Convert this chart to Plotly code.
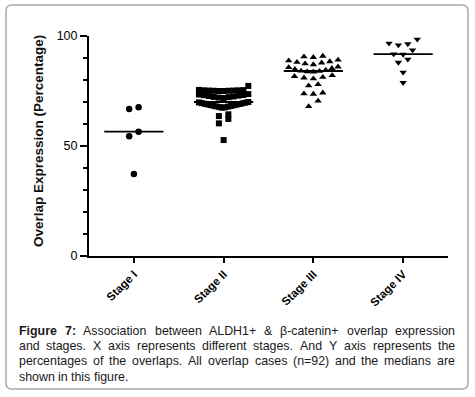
import plotly.graph_objects as go
import numpy as np

# ---------------- data ----------------
stages = ["Stage I", "Stage II", "Stage III", "Stage IV"]
stage1 = [67.6, 66.8, 56.5, 54.4, 37.3]
stage2 = [52.7, 60.3, 62.3, 63.6, 64.4,
          67.4, 67.6, 67.7, 67.9, 68.0, 68.2, 68.3, 68.5, 68.6, 68.8, 68.9,
          69.1, 69.2, 69.4, 69.5, 69.7, 69.8, 70.0,
          71.8, 72.0, 72.2, 72.3, 72.5, 72.7, 72.9, 73.1, 73.2, 73.4, 73.6,
          75.0, 75.0, 75.1, 75.1, 75.2, 75.2, 75.3, 75.3, 75.4, 75.5,
          77.3]
stage3 = [68.0, 70.5, 73.6, 73.8, 74.2, 77.4, 78.0,
          80.6, 81.0, 81.3, 81.7, 82.1,
          83.7, 83.8, 84.0, 84.1, 84.5, 84.9, 85.3, 85.7, 86.0,
          87.0, 87.4, 87.8, 88.1, 88.4, 88.8, 89.1,
          90.3, 90.6, 90.9]
stage4 = [78.8, 83.5, 88.0, 89.4, 91.6, 91.8, 93.6, 95.9, 96.4, 96.7, 98.5]
y_tick_vals = [0, 50, 100]
y_tick_text = ["0", "50", "100"]
symbols = ["circle", "square", "triangle-up", "triangle-down"]
marker_sizes = [6.5, 6, 6.5, 6.5]

caption_lines = [
    "Figure 7: Association between ALDH1+ & β-catenin+ overlap expression",
    "and stages. X axis represents different stages. And Y axis represents the",
    "percentages of the overlaps. All overlap cases (n=92) and the medians are",
    "shown in this figure.",
]
y_title = "Overlap Expression (Percentage)"

# ---------------- geometry helpers ----------------
W, H = 475, 397
L_M, R_M, T_M, B_M = 89, 27, 36, 141
PW = W - L_M - R_M
PH = H - T_M - B_M


def px(x):
    return (x - L_M) / PW


def py(y):
    return (H - B_M - y) / PH


def swarm(values, idx, row_h=3.0, step=0.105, max_w=0.55):
    vals = sorted(values)
    xs, ys = [], []
    i = 0
    while i < len(vals):
        j = i
        while j < len(vals) and vals[j] - vals[i] < row_h:
            j += 1
        row = vals[i:j]
        n = len(row)
        s = step if n < 2 else min(step, max_w / (n - 1))
        for k, v in enumerate(row):
            if n % 2:
                m = (k + 1) // 2
                slot = 0 if k == 0 else (-m if k % 2 else m)
            else:
                slot = (k // 2 + 0.5) * (-1 if k % 2 == 0 else 1)
            xs.append(idx + slot * s)
            ys.append(v)
        i = j
    return xs, ys


fig = go.Figure()
all_stages = [stage1, stage2, stage3, stage4]
for i, vals in enumerate(all_stages):
    xs, ys = swarm(vals, i)
    fig.add_trace(go.Scatter(
        x=xs, y=ys, mode="markers",
        marker=dict(symbol=symbols[i], size=marker_sizes[i], color="black",
                    line=dict(width=0)),
        hoverinfo="skip"))
    med = float(np.median(vals))
    fig.add_trace(go.Scatter(
        x=[i - 0.33, i + 0.33], y=[med, med], mode="lines",
        line=dict(color="black", width=1.8), hoverinfo="skip"))

FONT = "Liberation Sans, Arial, sans-serif"

fig.update_layout(
    width=W, height=H,
    margin=dict(l=L_M, r=R_M, t=T_M, b=B_M, pad=0),
    paper_bgcolor="white", plot_bgcolor="white",
    showlegend=False,
    font=dict(family=FONT, color="black"),
    xaxis=dict(
        range=[-0.5, 3.5], tickmode="array", tickvals=list(range(len(stages))),
        ticktext=["<b>%s</b>" % s for s in stages], tickangle=-45,
        tickfont=dict(size=11.5, family=FONT, color="black"),
        showline=True, linecolor="black", linewidth=2,
        ticks="outside", ticklen=5, tickwidth=2, tickcolor="black",
        showgrid=False, zeroline=False, automargin=False, fixedrange=True),
    yaxis=dict(
        range=[0, 100], tickmode="array", tickvals=y_tick_vals, ticktext=y_tick_text,
        tickfont=dict(size=12.5, family=FONT, color="black"),
        showline=True, linecolor="black", linewidth=2,
        ticks="outside", ticklen=7, tickwidth=2, tickcolor="black",
        minor=dict(tickmode="linear", tick0=0, dtick=10, ticks="outside",
                   ticklen=4, tickwidth=1.5, tickcolor="black"),
        showgrid=False, zeroline=False, automargin=False, fixedrange=True),
)

# y title
fig.add_annotation(
    text="<b>%s</b>" % y_title, textangle=-90, x=px(38), y=py(141),
    xref="paper", yref="paper", xanchor="center", yanchor="middle",
    showarrow=False, font=dict(size=13.5, family=FONT, color="#111"))

# rounded frame
x0, y0, x1, y1, r = 6, 5, 468, 389, 6


def P(a, b):
    return "%.5f,%.5f" % (px(a), py(b))


path = ("M" + P(x0 + r, y0) + " L" + P(x1 - r, y0) + " Q" + P(x1, y0) + " " + P(x1, y0 + r)
        + " L" + P(x1, y1 - r) + " Q" + P(x1, y1) + " " + P(x1 - r, y1)
        + " L" + P(x0 + r, y1) + " Q" + P(x0, y1) + " " + P(x0, y1 - r)
        + " L" + P(x0, y0 + r) + " Q" + P(x0, y0) + " " + P(x0 + r, y0) + " Z")
fig.add_shape(type="path", path=path, xref="paper", yref="paper",
              line=dict(color="#a9a9a9", width=1.5), fillcolor="rgba(0,0,0,0)", layer="below")

# caption (justified, word by word with Arial metrics)
REG = dict(zip("abcdefghijklmnopqrstuvwxyz",
               [556, 556, 500, 556, 556, 278, 556, 556, 222, 222, 500, 222, 833, 556, 556,
                556, 556, 333, 500, 278, 556, 500, 722, 500, 500, 500]))
REG.update(dict(zip("ABCDEFGHIJKLMNOPQRSTUVWXYZ",
                    [667, 667, 722, 722, 667, 611, 778, 722, 278, 500, 667, 556, 833, 722, 778,
                     667, 778, 722, 667, 611, 722, 667, 944, 667, 667, 611])))
REG.update({" ": 278, ".": 278, ",": 278, ":": 278, "(": 333, ")": 333, "+": 584,
            "=": 584, "&": 667, "-": 333, "β": 575})
for d in "0123456789":
    REG[d] = 556
BOLD = {"F": 611, "i": 278, "g": 611, "u": 611, "r": 389, "e": 556, "7": 556, ":": 333, " ": 278}

CFS = 12.4
CX0, CX1 = 19, 455
line_y = [331, 346, 361, 376.5]


def tw(s, bold):
    t = BOLD if bold else REG
    return sum(t.get(c, REG.get(c, 556)) for c in s) * CFS / 1000.0


for li, line in enumerate(caption_lines):
    words = line.split(" ")
    bolds = [li == 0 and wi < 2 for wi in range(len(words))]
    widths = [tw(w, b) for w, b in zip(words, bolds)]
    if li < len(caption_lines) - 1 and len(words) > 1:
        gap = (CX1 - CX0 - sum(widths)) / (len(words) - 1)
    else:
        gap = REG[" "] * CFS / 1000.0
    x = CX0
    for w, b, wd in zip(words, bolds, widths):
        fig.add_annotation(
            text=("<b>%s</b>" % w) if b else w, x=px(x), y=py(line_y[li]),
            xref="paper", yref="paper", xanchor="left", yanchor="middle",
            showarrow=False, borderpad=0, borderwidth=0,
            font=dict(size=CFS, family=FONT, color="#1a1a1a"))
        x += wd + gap

fig.write_html("out.html", config={"displayModeBar": False, "staticPlot": True},
               post_script="document.body.style.margin='0px';")
